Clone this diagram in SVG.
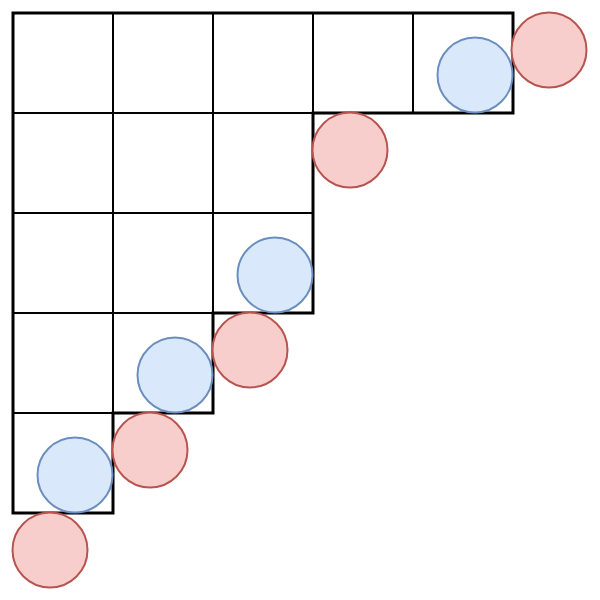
<svg xmlns="http://www.w3.org/2000/svg" width="600" height="600" viewBox="0 0 600 600">
<style>
.cell{fill:#ffffff;stroke:#000000;stroke-width:2}
.outline{fill:none;stroke:#000000;stroke-width:3}
.red{fill:#f8cecc;stroke:#b85450;stroke-width:2}
.blue{fill:#dae8fc;stroke:#6c8ebf;stroke-width:2}
</style>
<rect width="600" height="600" fill="#ffffff"/>
<g id="grid">
<rect class="cell" x="13" y="13" width="100" height="100"/>
<rect class="cell" x="113" y="13" width="100" height="100"/>
<rect class="cell" x="213" y="13" width="100" height="100"/>
<rect class="cell" x="313" y="13" width="100" height="100"/>
<rect class="cell" x="413" y="13" width="100" height="100"/>
<rect class="cell" x="13" y="113" width="100" height="100"/>
<rect class="cell" x="113" y="113" width="100" height="100"/>
<rect class="cell" x="213" y="113" width="100" height="100"/>
<rect class="cell" x="13" y="213" width="100" height="100"/>
<rect class="cell" x="113" y="213" width="100" height="100"/>
<rect class="cell" x="213" y="213" width="100" height="100"/>
<rect class="cell" x="13" y="313" width="100" height="100"/>
<rect class="cell" x="113" y="313" width="100" height="100"/>
<rect class="cell" x="13" y="413" width="100" height="100"/>
<path class="outline" d="M13,13 H513 V113 H313 V313 H213 V413 H113 V513 H13 Z"/>
</g>
<g id="circles">
<circle id="r1" class="red" cx="549" cy="50" r="37.5"/>
<circle id="b1" class="blue" cx="475" cy="75" r="37.5"/>
<circle id="r2" class="red" cx="350" cy="150" r="37.5"/>
<circle id="b2" class="blue" cx="275" cy="275" r="37.5"/>
<circle id="r3" class="red" cx="250" cy="350" r="37.5"/>
<circle id="b3" class="blue" cx="175" cy="375" r="37.5"/>
<circle id="r4" class="red" cx="150" cy="450" r="37.5"/>
<circle id="b4" class="blue" cx="75" cy="475" r="37.5"/>
<circle id="r5" class="red" cx="50" cy="550" r="37.5"/>
</g>
</svg>
